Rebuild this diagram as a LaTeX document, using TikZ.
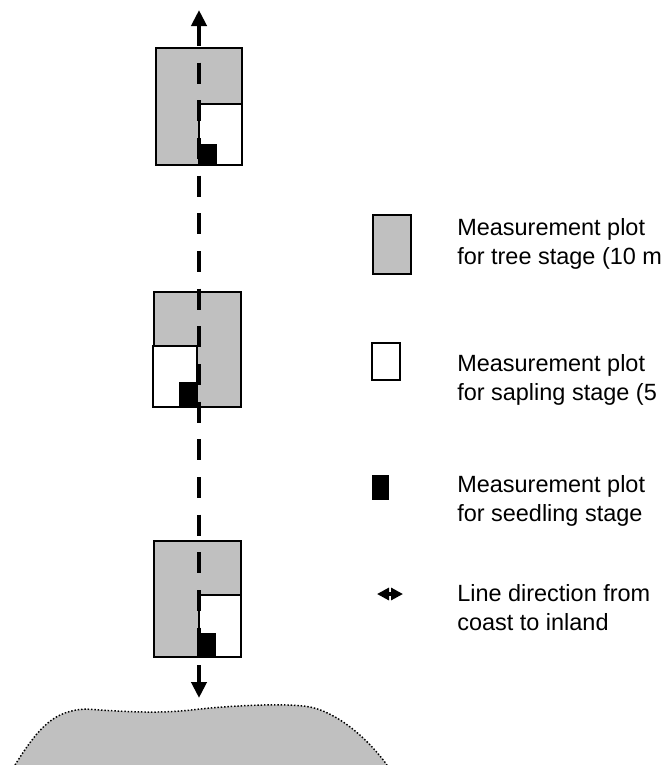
\documentclass[tikz,border=0pt]{standalone}
\usepackage{fontspec}
\setmainfont{Liberation Sans}
\usetikzlibrary{arrows.meta}
\definecolor{plotgray}{RGB}{192,192,192}
\begin{document}
\begin{tikzpicture}[x=0.75pt,y=-0.75pt,
  tree/.style={fill=plotgray,draw=black,line width=1.1pt},
  sapling/.style={fill=white,draw=black,line width=1.1pt},
  seedling/.style={fill=black},
  transect/.style={line width=3.5pt, dash pattern=on 15.75pt off 12.5pt,
    {Triangle[width=11.25pt,length=12pt]}-{Triangle[width=11.25pt,length=12pt]}},
  legarrow/.style={line width=3pt,
    {Triangle[width=9pt,length=9pt]}-{Triangle[width=9pt,length=9pt]}},
  legtext/.style={anchor=base west, align=left, inner sep=0pt,
    font=\fontsize{17.6pt}{21.4pt}\selectfont},
  shore/.style={fill=plotgray},
  shoreline/.style={line width=1.1pt, dash pattern=on 1.1pt off 1.4pt}
]
\useasboundingbox (0,0) rectangle (668,765);

% shore
\fill[shore] (15,765) .. controls (40,725) and (55,711) .. (85,709)
  .. controls (130,712) and (160,714) .. (200,709)
  .. controls (240,705) and (290,703) .. (310,707)
  .. controls (335,712) and (365,735) .. (387,765) -- cycle;
\draw[shoreline] (15,765) .. controls (40,725) and (55,711) .. (85,709)
  .. controls (130,712) and (160,714) .. (200,709)
  .. controls (240,705) and (290,703) .. (310,707)
  .. controls (335,712) and (365,735) .. (387,765);

% top plot
\draw[tree] (156,48) rectangle (242,165);
\draw[sapling] (199,104) rectangle (242,165);
\fill[seedling] (198,144) rectangle (217,166);

% middle plot
\draw[tree] (154,292) rectangle (241,407);
\draw[sapling] (153,346) rectangle (197,407);
\fill[seedling] (179,382) rectangle (197,406);

% bottom plot
\draw[tree] (154,541) rectangle (241,657);
\draw[sapling] (199,595) rectangle (241,657);
\fill[seedling] (197,633) rectangle (216,657);

% transect line
\coordinate (inland) at (199,10);
\coordinate (coast) at (199,698);
\draw[transect] (inland) -- (coast);

% legend
\draw[tree] (373,215) rectangle (411,274);
\node[legtext] (ltree) at (457,264.5) {Measurement plot\\for tree stage (10 m};

\draw[sapling] (372,343) rectangle (400,380);
\node[legtext] (lsap) at (457,400.5) {Measurement plot\\for sapling stage (5};

\fill[seedling] (372,475) rectangle (389,500);
\node[legtext] (lseed) at (457,521.5) {Measurement plot\\for seedling stage};

\coordinate (la) at (377,594);
\coordinate (lb) at (403,594);
\draw[legarrow] (la) -- (lb);
\node[legtext] (lline) at (457,630.5) {Line direction from\\coast to inland};
\end{tikzpicture}
\end{document}
